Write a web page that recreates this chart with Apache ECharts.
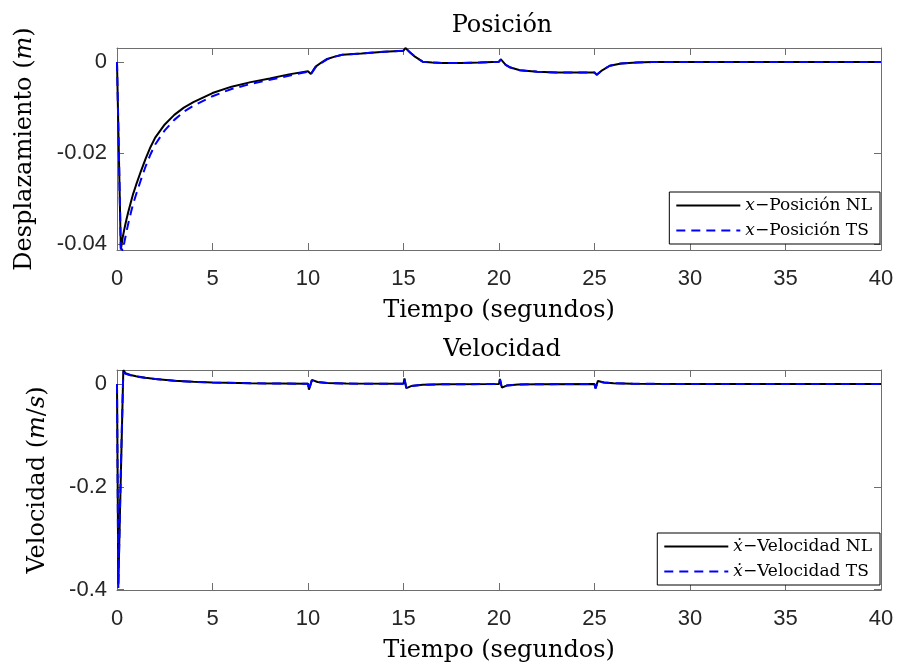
<!DOCTYPE html>
<html>
<head>
<meta charset="utf-8">
<script src="https://cdn.jsdelivr.net/npm/echarts@6/dist/echarts.min.js"></script>
<style>
  html, body { margin: 0; padding: 0; background: #fff; }
  #chart { width: 899px; height: 665px; }
</style>
</head>
<body>
<div id="chart"></div>
<script>
// tiempo (s) para la posicion
var tPos = [0, 0.2, 0.3, 0.4, 0.5, 0.6, 0.75, 0.85, 1, 1.25, 1.5, 1.75, 2, 2.5, 3, 3.5, 4, 5, 6, 7, 8, 9, 10,
  10.15, 10.4, 10.7, 11, 11.4, 11.8, 12.8, 14, 15, 15.1, 15.3, 15.6, 16, 16.5, 17, 18, 19, 20,
  20.1, 20.35, 20.6, 21.1, 22, 23, 24, 25, 25.12, 25.4, 25.8, 26.4, 27.2, 28, 30, 35, 40];
var posNL = [0, -0.0412, -0.0385, -0.0364, -0.0345, -0.0328, -0.0304, -0.0289, -0.0270, -0.0240, -0.0212, -0.0187, -0.0166, -0.0137, -0.0116, -0.0100, -0.0088, -0.0068, -0.0054, -0.0044, -0.0036, -0.0027, -0.0020,
  -0.0026, -0.0010, -0.0001, 0.0007, 0.0012, 0.0016, 0.0019, 0.0023, 0.0025, 0.0031, 0.0023, 0.0012, 0.0001, -0.0001, -0.0002, -0.0002, -0.0001, 0.0001,
  0.0006, -0.0006, -0.0012, -0.0018, -0.0021, -0.0023, -0.0023, -0.0023, -0.0028, -0.0018, -0.0008, -0.0003, -0.0001, 0, 0, 0, 0];
var posTS = [0, -0.0408, -0.0414, -0.0393, -0.0372, -0.0353, -0.0327, -0.0311, -0.0291, -0.0259, -0.0229, -0.0203, -0.0181, -0.0150, -0.0127, -0.0109, -0.0096, -0.0075, -0.0059, -0.0048, -0.0039, -0.0030, -0.0021,
  -0.0027, -0.0011, -0.0002, 0.0006, 0.0012, 0.0016, 0.0019, 0.0023, 0.0025, 0.0031, 0.0023, 0.0012, 0.0001, -0.0001, -0.0002, -0.0002, -0.0001, 0.0001,
  0.0006, -0.0006, -0.0012, -0.0018, -0.0021, -0.0023, -0.0023, -0.0023, -0.0028, -0.0018, -0.0008, -0.0003, -0.0001, 0, 0, 0, 0];

// tiempo (s) para la velocidad
var tVel = [0, 0.07, 0.15, 0.25, 0.33, 0.45, 0.7, 1, 1.5, 2, 3, 4, 5, 7, 10,
  10.05, 10.2, 10.5, 11, 12, 15, 15.05, 15.15, 15.4, 16, 17, 20, 20.05, 20.15, 20.4, 21, 22,
  25, 25.05, 25.18, 25.5, 26, 27, 30, 40];
var velNL = [0, -0.390, -0.260, -0.100, 0.027, 0.021, 0.0176, 0.015, 0.012, 0.010, 0.0065, 0.0045, 0.003, 0.0015, 0.0005,
  -0.011, 0.008, 0.004, 0.002, 0.0008, 0.0003, 0.011, -0.008, -0.004, -0.0015, -0.0005, 0, 0.010, -0.007, -0.003, -0.001, -0.0003,
  0, -0.008, 0.006, 0.003, 0.0015, 0.0005, 0, 0];
var velTS = [0, -0.398, -0.250, -0.090, 0.022, 0.020, 0.0172, 0.0148, 0.0118, 0.0098, 0.0064, 0.0044, 0.003, 0.0015, 0.0005,
  -0.012, 0.007, 0.004, 0.002, 0.0008, 0.0003, 0.010, -0.009, -0.004, -0.0015, -0.0005, 0, 0.009, -0.008, -0.003, -0.001, -0.0003,
  0, -0.009, 0.005, 0.003, 0.0015, 0.0005, 0, 0];

var posTicks = [-0.04, -0.02, 0];
var velTicks = [-0.4, -0.2, 0];

var serif = 'DejaVu Serif';
var sans = 'Liberation Sans';
var axisColor = '#6e6e6e';

function pairs(t, v) {
  return t.map(function (x, i) { return [x, v[i]]; });
}

function fmtTick(v) {
  return v === 0 ? '0' : String(v);
}

function xAxisFor(grid, showLabels, name) {
  return {
    type: 'value', gridIndex: grid, min: 0, max: 40, interval: 5,
    position: showLabels ? 'bottom' : 'top',
    name: name, nameLocation: 'middle', nameGap: 49,
    nameTextStyle: { fontFamily: serif, fontSize: 24, color: '#000' },
    axisLine: { show: true, onZero: false, lineStyle: { color: axisColor, width: 1 } },
    axisTick: { show: true, inside: true, length: 7, lineStyle: { color: axisColor } },
    axisLabel: { show: showLabels, margin: 18, fontFamily: sans, fontSize: 22, color: '#262626' },
    splitLine: { show: false }
  };
}

function yAxisFor(grid, min, max, ticks, showLabels, name, gap) {
  return {
    type: 'value', gridIndex: grid, min: min, max: max,
    position: showLabels ? 'left' : 'right',
    name: name, nameLocation: 'middle', nameGap: gap,
    nameTextStyle: {
      fontFamily: serif, fontSize: 24, color: '#000',
      rich: { i: { fontFamily: serif, fontSize: 24, fontStyle: 'italic', color: '#000' } }
    },
    axisLine: { show: true, onZero: false, lineStyle: { color: axisColor, width: 1 } },
    axisTick: { show: true, inside: true, length: 7, customValues: ticks, lineStyle: { color: axisColor } },
    axisLabel: { show: showLabels, customValues: ticks, margin: 10, fontFamily: sans, fontSize: 22, color: '#262626', formatter: fmtTick },
    splitLine: { show: false }
  };
}

function legendFor(top, names) {
  return {
    orient: 'vertical', right: 19, top: top,
    data: names,
    backgroundColor: '#fff', borderColor: '#000', borderWidth: 1,
    padding: [5, 8, 5, 6], itemGap: 8, itemWidth: 64, itemHeight: 14,
    itemStyle: { opacity: 0 },
    textStyle: {
      fontFamily: serif, fontSize: 17, color: '#000',
      rich: { i: { fontFamily: serif, fontSize: 17, fontStyle: 'italic', color: '#000' } }
    },
    formatter: function (n) {
      return n.replace(/^(ẋ|x)/, '{i|$1}');
    }
  };
}

var chart = echarts.init(document.getElementById('chart'));
chart.setOption({
  animation: false,
  backgroundColor: '#fff',
  title: [
    { text: 'Posición', left: 497, top: 9, textAlign: 'center',
      textStyle: { fontFamily: serif, fontSize: 24, fontWeight: 'normal', color: '#000' } },
    { text: 'Velocidad', left: 497, top: 333, textAlign: 'center',
      textStyle: { fontFamily: serif, fontSize: 24, fontWeight: 'normal', color: '#000' } }
  ],
  grid: [
    { left: 117, right: 18, top: 48, height: 202 },
    { left: 117, right: 18, top: 370, height: 220 }
  ],
  legend: [
    legendFor(192, ['x−Posición NL', 'x−Posición TS']),
    legendFor(533, ['ẋ−Velocidad NL', 'ẋ−Velocidad TS'])
  ],
  xAxis: [
    xAxisFor(0, true, 'Tiempo (segundos)'),
    xAxisFor(0, false, ''),
    xAxisFor(1, true, 'Tiempo (segundos)'),
    xAxisFor(1, false, '')
  ],
  yAxis: [
    yAxisFor(0, -0.0413, 0.0031, posTicks, true, 'Desplazamiento ({i|m})', 80),
    yAxisFor(0, -0.0413, 0.0031, posTicks, false, '', 0),
    yAxisFor(1, -0.401, 0.0273, velTicks, true, 'Velocidad ({i|m}/{i|s})', 67),
    yAxisFor(1, -0.401, 0.0273, velTicks, false, '', 0)
  ],
  series: [
    { name: 'x−Posición NL', type: 'line', xAxisIndex: 0, yAxisIndex: 0, data: pairs(tPos, posNL),
      symbol: 'none', lineStyle: { color: '#000', width: 2 }, itemStyle: { color: '#000' } },
    { name: 'x−Posición TS', type: 'line', xAxisIndex: 0, yAxisIndex: 0, data: pairs(tPos, posTS),
      symbol: 'none', lineStyle: { color: '#0000ff', width: 2, type: [9, 6] }, itemStyle: { color: '#0000ff' } },
    { name: 'ẋ−Velocidad NL', type: 'line', xAxisIndex: 2, yAxisIndex: 2, data: pairs(tVel, velNL),
      symbol: 'none', lineStyle: { color: '#000', width: 2 }, itemStyle: { color: '#000' } },
    { name: 'ẋ−Velocidad TS', type: 'line', xAxisIndex: 2, yAxisIndex: 2, data: pairs(tVel, velTS),
      symbol: 'none', lineStyle: { color: '#0000ff', width: 2, type: [9, 6] }, itemStyle: { color: '#0000ff' } }
  ]
});
</script>
</body>
</html>
